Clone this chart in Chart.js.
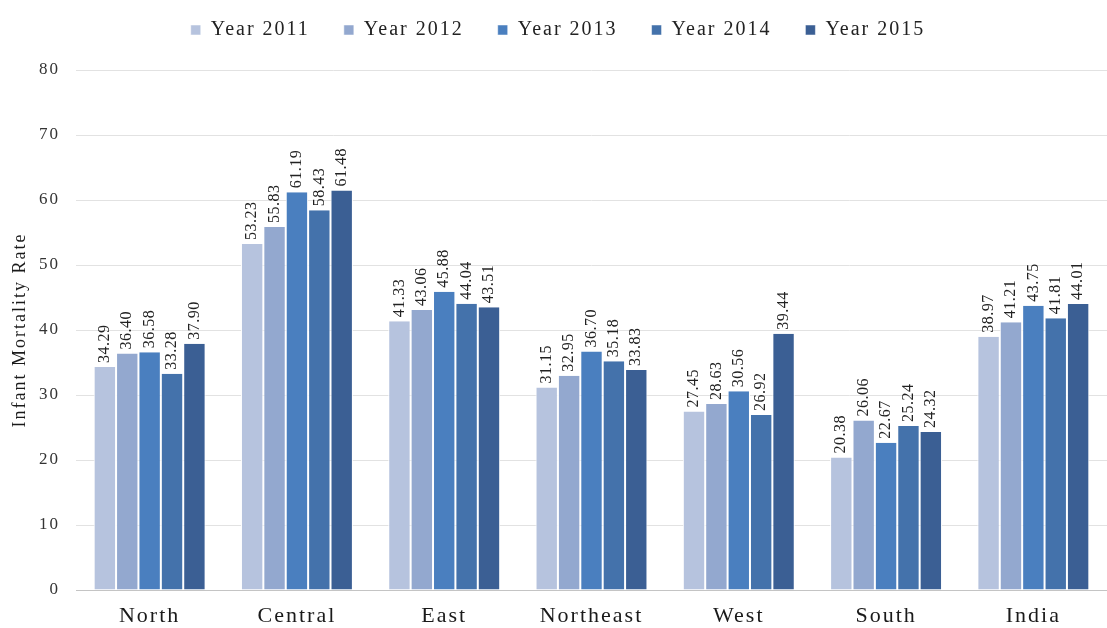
<!DOCTYPE html>
<html>
<head>
<meta charset="utf-8">
<script src="https://cdn.jsdelivr.net/npm/chart.js@4"></script>
<style>
  html, body { margin: 0; padding: 0; background: #fff; }
  #wrap { width: 1107px; height: 628px; position: relative; }
</style>
</head>
<body>
<div id="wrap"><canvas id="imrChart"></canvas></div>
<script>
const regions = ['North', 'Central', 'East', 'Northeast', 'West', 'South', 'India'];
const years = ['Year 2011', 'Year 2012', 'Year 2013', 'Year 2014', 'Year 2015'];
const y2011 = [34.29, 53.23, 41.33, 31.15, 27.45, 20.38, 38.97];
const y2012 = [36.40, 55.83, 43.06, 32.95, 28.63, 26.06, 41.21];
const y2013 = [36.58, 61.19, 45.88, 36.70, 30.56, 22.67, 43.75];
const y2014 = [33.28, 58.43, 44.04, 35.18, 26.92, 25.24, 41.81];
const y2015 = [37.90, 61.48, 43.51, 33.83, 39.44, 24.32, 44.01];
const yTicks = [0, 10, 20, 30, 40, 50, 60, 70, 80];

const colors = ['#b6c3de', '#93a8cf', '#4a7fbf', '#4472ab', '#3b5f94'];
const seriesData = [y2011, y2012, y2013, y2014, y2015];
const serif = '"Liberation Serif", "Times New Roman", serif';

// the scanned original has wide letter spacing on all text
const spacing = {
    id: 'spacing',
    beforeLayout(chart) { chart.ctx.letterSpacing = '2px'; },
    beforeDraw(chart) {
        chart.ctx.letterSpacing = '2px';
        // pull the legend row up so it sits at the top like the original
        chart.legend.top = -14;
    }
};

// fixed height for the legend band
const legendBand = {
    id: 'legendBand',
    beforeInit(chart) {
        const legend = chart.legend;
        const fit = legend.fit;
        legend.fit = function() {
            fit.call(this);
            this.height = 70;
        };
    }
};

// rotated value labels above each bar
const barLabels = {
    id: 'barLabels',
    afterDatasetsDraw(chart) {
        const ctx = chart.ctx;
        ctx.save();
        ctx.letterSpacing = '0.5px';
        ctx.font = '16px ' + serif;
        ctx.fillStyle = '#222';
        ctx.textAlign = 'left';
        ctx.textBaseline = 'middle';
        chart.data.datasets.forEach((ds, i) => {
            const meta = chart.getDatasetMeta(i);
            meta.data.forEach((bar, j) => {
                ctx.save();
                ctx.translate(bar.x, bar.y - 4);
                ctx.rotate(-Math.PI / 2);
                ctx.fillText(ds.data[j].toFixed(2), 0, 0);
                ctx.restore();
            });
        });
        ctx.restore();
    }
};

new Chart(document.getElementById('imrChart'), {
    type: 'bar',
    data: {
        labels: regions,
        datasets: years.map((y, i) => ({
            label: y,
            data: seriesData[i],
            backgroundColor: colors[i],
            borderColor: '#ffffff',
            borderWidth: { left: 1, right: 1, top: 0, bottom: 0 },
            categoryPercentage: 0.76,
            barPercentage: 1.0
        }))
    },
    options: {
        responsive: true,
        maintainAspectRatio: false,
        animation: false,
        layout: { padding: { left: 9, right: 0, top: 0, bottom: 0 } },
        plugins: {
            legend: {
                position: 'top',
                labels: {
                    boxWidth: 10,
                    boxHeight: 10,
                    padding: 34,
                    color: '#222',
                    font: { family: serif, size: 20 }
                }
            },
            tooltip: { enabled: false }
        },
        scales: {
            x: {
                afterFit(axis) { axis.height = 38; },
                grid: { display: false, drawTicks: false },
                border: { color: '#c4c4c4' },
                ticks: {
                    color: '#1a1a1a',
                    padding: 13,
                    font: { family: serif, size: 22 }
                }
            },
            y: {
                min: 0,
                max: 80,
                afterBuildTicks(axis) { axis.ticks = yTicks.map(v => ({ value: v })); },
                afterFit(axis) { axis.width = 67; },
                grid: { color: '#e2e2e2', drawTicks: false },
                border: { display: false },
                ticks: {
                    color: '#333',
                    padding: 16,
                    font: { family: serif, size: 17 }
                },
                title: {
                    display: true,
                    text: 'Infant Mortality Rate',
                    color: '#1a1a1a',
                    padding: 0,
                    font: { family: serif, size: 18 }
                }
            }
        }
    },
    plugins: [legendBand, spacing, barLabels]
});
</script>
</body>
</html>
